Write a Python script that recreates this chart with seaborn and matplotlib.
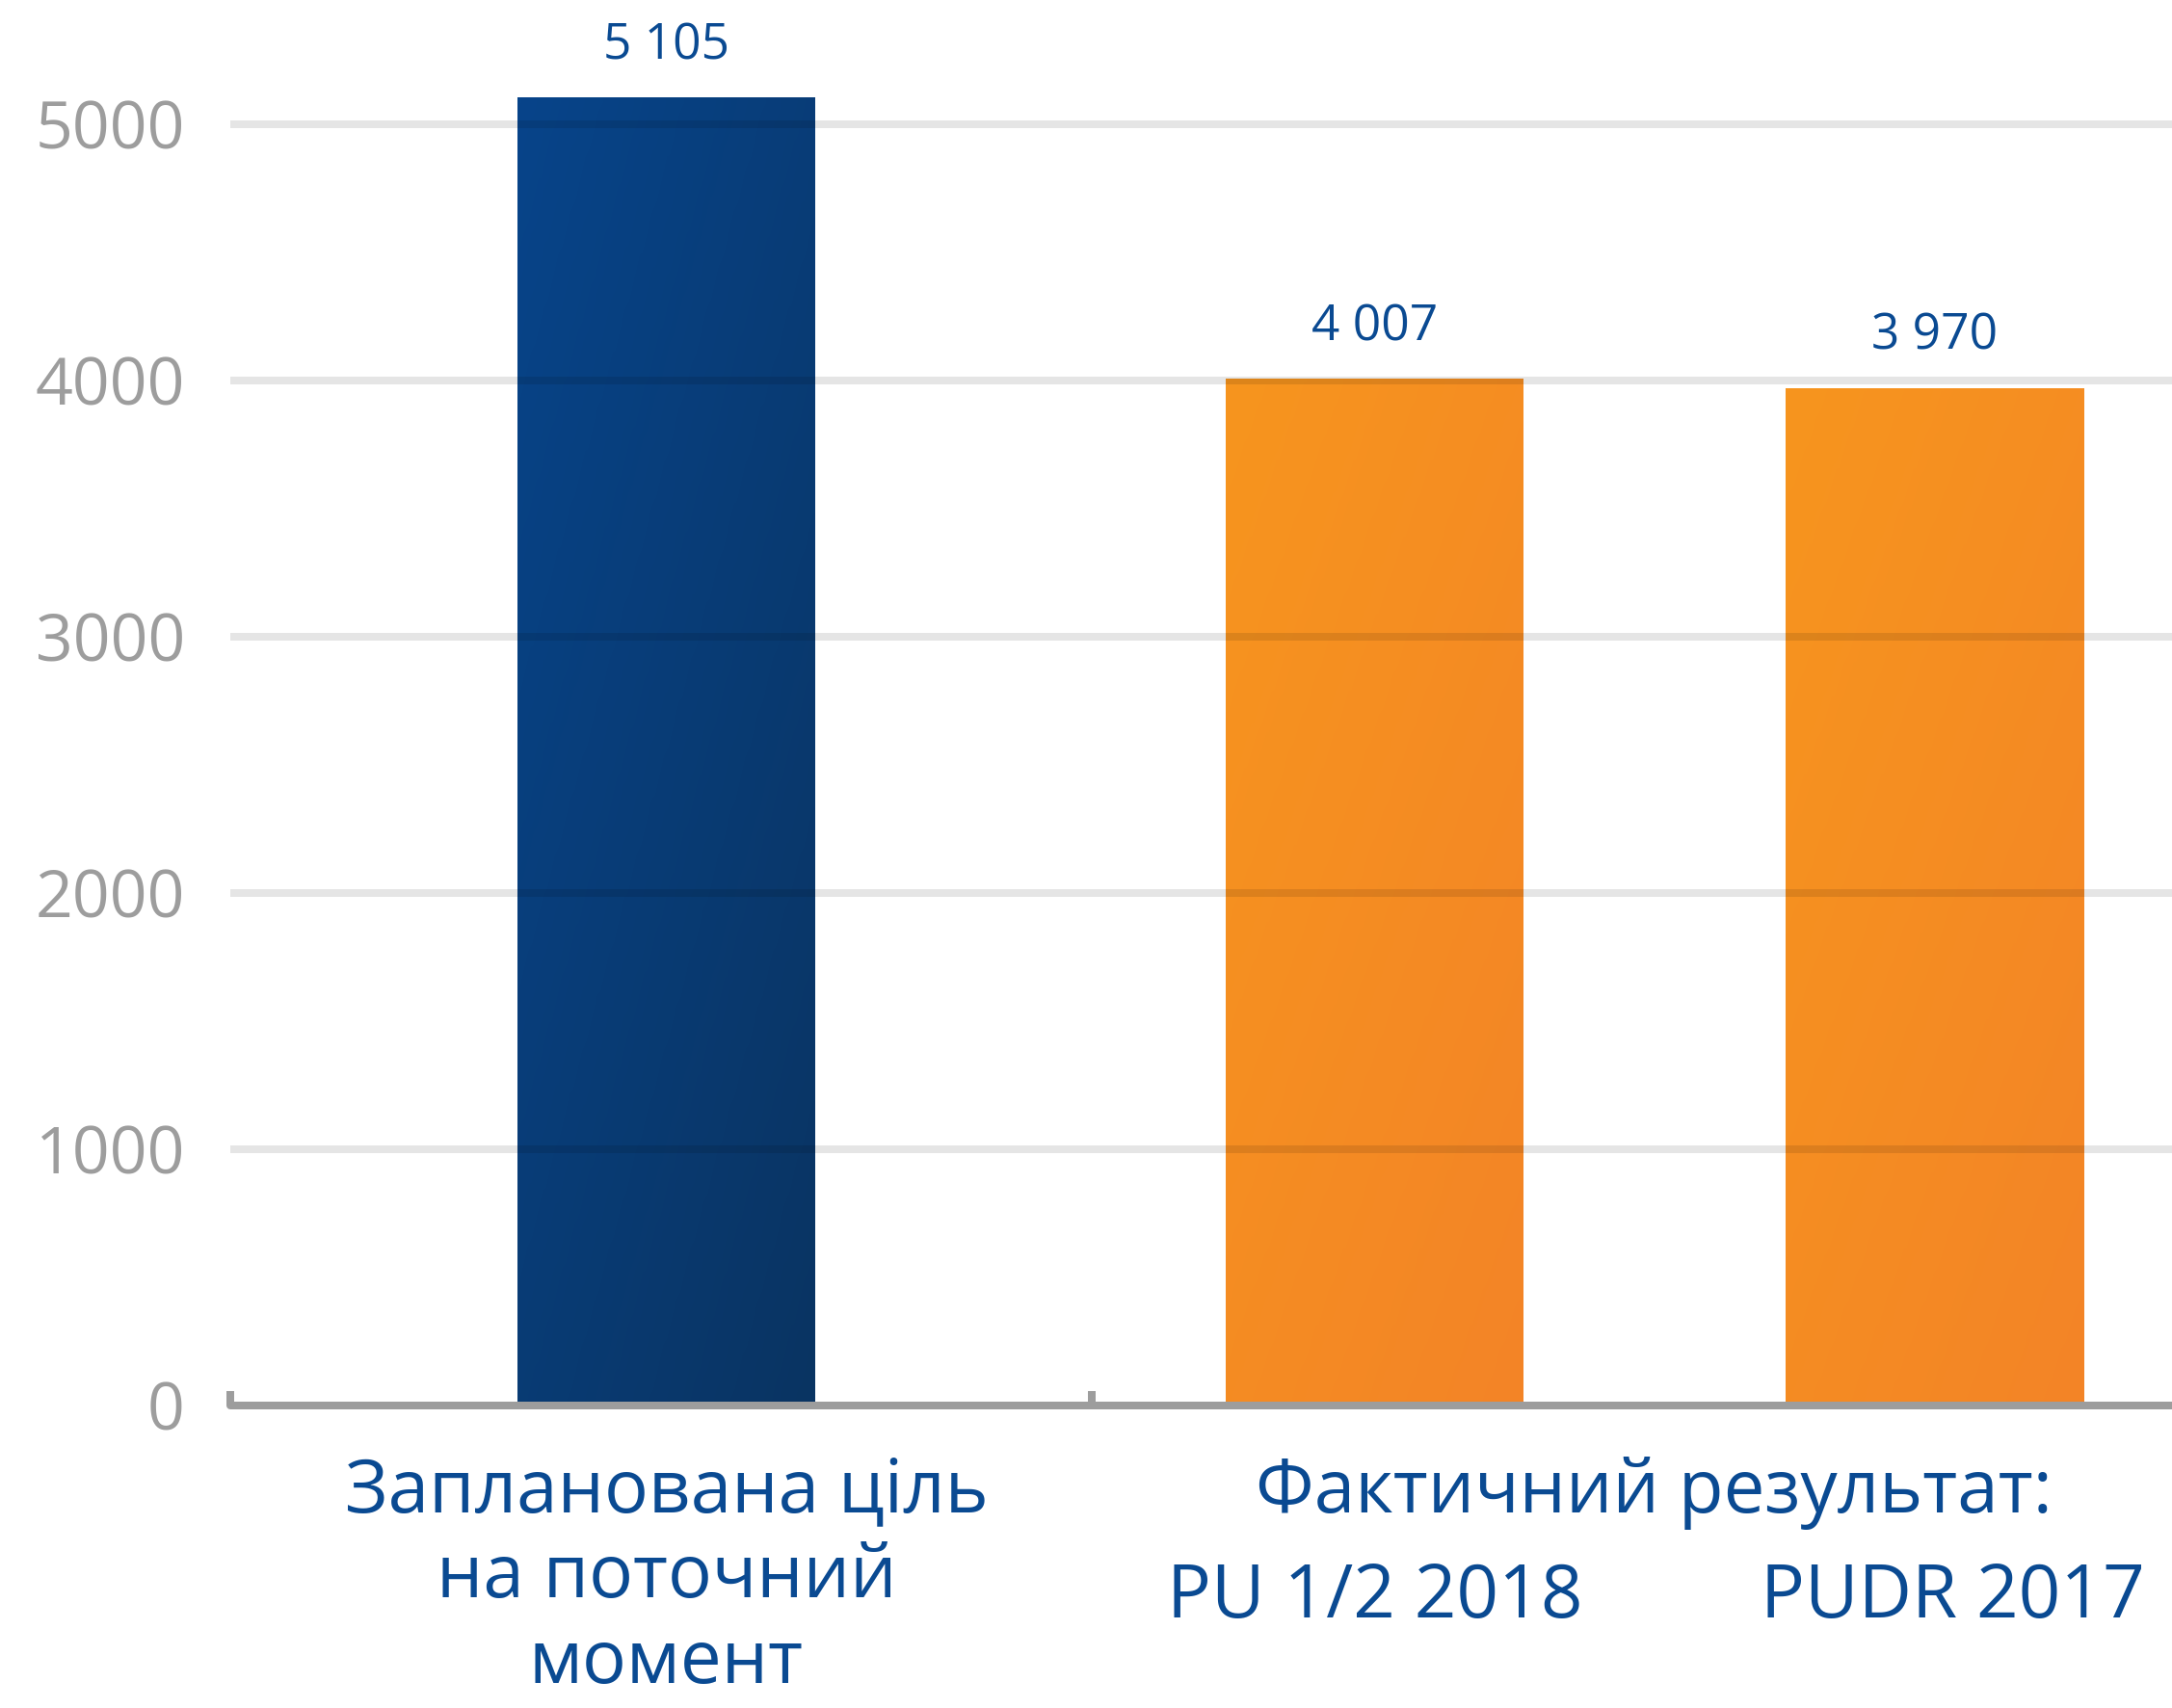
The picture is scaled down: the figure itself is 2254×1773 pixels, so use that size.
import numpy as np
import pandas as pd
import matplotlib
matplotlib.use("Agg")
import matplotlib.pyplot as plt
import seaborn as sns
from matplotlib.colors import LinearSegmentedColormap
from matplotlib.transforms import ScaledTranslation

# ---------------- data ----------------
categories = ["Запланована ціль\nна поточний\nмомент", "PU 1/2 2018", "PUDR 2017"]
values = [5105, 4007, 3970]
kinds = ["plan", "actual", "actual"]
group_label = "Фактичний результат:"
yticks = [0, 1000, 2000, 3000, 4000, 5000]

# ---------------- layout / style ----------------
positions = [0.0, 1.0, 1.79]           # bar slots along x (layout)
W, H = 2254, 1773
PT = 0.72                               # points per pixel at dpi 100
BLUE_TXT = "#0a4a92"
GRAY = "#9d9d9d"
palette = {"plan": "#083d75", "actual": "#f58d22"}
gradients = {"plan": ("#07448a", "#0a3462"), "actual": ("#f7951e", "#f38427")}
CAT_FS = 55

sns.set_theme(style="white")
plt.rcParams["font.family"] = ["Open Sans", "DejaVu Sans"]

df = pd.DataFrame({"pos": positions, "value": values, "kind": kinds})

fig = plt.figure(figsize=(W / 100, H / 100), dpi=100)
ax_left, ax_right, y0px, ytop = 239, 2280, 1459, 40
ax = fig.add_axes([ax_left / W, (H - y0px) / H, (ax_right - ax_left) / W, (y0px - ytop) / H])

px_per_unit = 735.0
bar_w_units = 309 / px_per_unit
min_gap = min(np.diff(sorted(positions)))
sns.barplot(data=df, x="pos", y="value", hue="kind", hue_order=["plan", "actual"],
            palette=palette, native_scale=True, width=bar_w_units / min_gap,
            legend=False, saturation=1, ax=ax, errorbar=None)

# gradient fill clipped to each bar
for container, kind in zip(ax.containers, ["plan", "actual"]):
    cmap = LinearSegmentedColormap.from_list(kind, gradients[kind])
    for bar in container:
        x0, y0b = bar.get_x(), bar.get_y()
        bw, bh = bar.get_width(), bar.get_height()
        u = np.linspace(0, 1, 120)
        U, V = np.meshgrid(u, u)
        grad = 0.45 * U + 0.55 * V
        im = ax.imshow(grad, extent=[x0, x0 + bw, y0b, y0b + bh], origin="upper",
                       cmap=cmap, aspect="auto", zorder=1.2, interpolation="bilinear")
        im.set_clip_path(bar)

# value labels
def fmt(v):
    return f"{int(round(v)):,}".replace(",", " ")

for container in ax.containers:
    ax.bar_label(container, labels=[fmt(b.get_height()) for b in container],
                 padding=28 * PT, fontsize=37, color=BLUE_TXT, zorder=4)

# axes limits
x_left = -(691.5 - ax_left) / px_per_unit
ax.set_xlim(x_left, x_left + (ax_right - ax_left) / px_per_unit)
ax.set_ylim(0, (y0px - ytop) / 0.266)

# y axis
ax.set_yticks(yticks, [str(t) for t in yticks])
ax.tick_params(axis="y", length=0, pad=47 * PT, labelsize=49, labelcolor=GRAY)
ax.set_ylabel("")
ax.set_xlabel("")

# gridlines drawn over bars (multiply-like look)
ax.set_axisbelow(False)
ax.grid(axis="y", color="black", alpha=0.1, linewidth=8 * PT)
ax.grid(axis="x", visible=False)
for gl in ax.get_ygridlines():
    gl.set_solid_capstyle("round")
ax.get_ygridlines()[0].set_visible(False)

# x axis
ax.set_xticks(positions, categories)
ax.tick_params(axis="x", which="major", bottom=True, length=0, pad=52 * PT,
               labelsize=CAT_FS, labelcolor=BLUE_TXT)
boundary = x_left + (1133 - ax_left) / px_per_unit
ax.set_xticks([x_left, boundary], minor=True)
ax.tick_params(axis="x", which="minor", bottom=True, direction="in",
               length=15 * PT, width=8 * PT, color=GRAY)

xlabels = ax.get_xticklabels()
xlabels[0].set_linespacing(1.21)
# second row labels under the group heading
offsets_px = [(0, 0), (0, 110), (19, 110)]
for lab, (dx, dy) in zip(xlabels, offsets_px):
    if dx or dy:
        lab.set_transform(lab.get_transform() +
                          ScaledTranslation(dx / 100, -dy / 100, fig.dpi_scale_trans))

ax.text((positions[1] + positions[2]) / 2, -52 / (y0px - ytop), group_label,
        transform=ax.get_xaxis_transform(), ha="center", va="top",
        fontsize=CAT_FS, color=BLUE_TXT)

for s in ["top", "right", "left"]:
    ax.spines[s].set_visible(False)
ax.spines["bottom"].set_color(GRAY)
ax.spines["bottom"].set_linewidth(8 * PT)
ax.spines["bottom"].set_capstyle("round")
ax.spines["bottom"].set_zorder(3)

fig.savefig("out.png", dpi=100, facecolor="white")
